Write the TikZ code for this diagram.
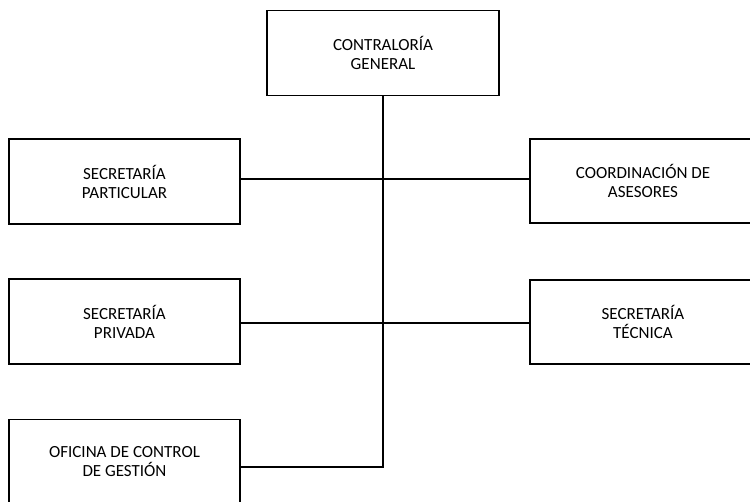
\documentclass[tikz,border=0pt]{standalone}
\usepackage{fontspec}
\setmainfont{Carlito}
\begin{document}
\begin{tikzpicture}[x=1pt,y=-1pt,line width=1.6pt,
	caja/.style={draw,rectangle,align=center,inner sep=0pt,
		minimum width=231pt,minimum height=85pt,
		font=\fontsize{17}{19}\selectfont}]
	\useasboundingbox (0,0) rectangle (750,502);
	\node[caja,minimum width=232pt] (contra) at (383, 53) {CONTRALORÍA\\GENERAL};
	\node[caja] (partic) at (124.5, 181.5) {SECRETARÍA\\PARTICULAR};
	\node[caja] (privada) at (124.5, 321.5) {SECRETARÍA\\PRIVADA};
	\node[caja] (gestion) at (124.5, 462) {OFICINA DE CONTROL\\DE GESTIÓN};
	\node[caja,minimum width=226pt,minimum height=84pt] (asesor) at (643, 181) {COORDINACIÓN DE\\ASESORES};
	\node[caja,minimum width=226pt,minimum height=84pt] (tecnica) at (643, 322) {SECRETARÍA\\TÉCNICA};
	\coordinate (fin) at (contra.south |- 0, 467);
	\draw (contra.south) -- (fin) -- (gestion.east |- fin);
	\draw (partic.east |- 0, 179) -- (asesor.west |- 0, 179);
	\draw (privada.east |- 0, 323) -- (tecnica.west |- 0, 323);
\end{tikzpicture}
\end{document}
